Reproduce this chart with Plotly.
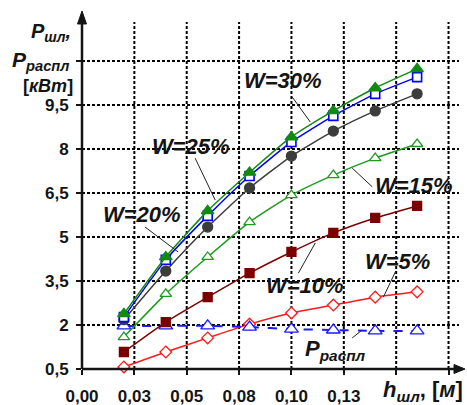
import plotly.graph_objects as go

# Slot height h_шл, m
h = [0.02, 0.04, 0.06, 0.08, 0.10, 0.12, 0.14, 0.16]

# Slag bath power P_шл, kW, for each moisture level W
p_w30 = [2.38, 4.32, 5.89, 7.20, 8.41, 9.30, 10.08, 10.73]
p_w25 = [2.27, 4.22, 5.72, 7.08, 8.24, 9.13, 9.88, 10.45]
p_w20 = [2.18, 3.84, 5.34, 6.67, 7.76, 8.61, 9.30, 9.88]
p_w15 = [1.59, 3.06, 4.32, 5.51, 6.43, 7.11, 7.69, 8.17]
p_w10 = [1.08, 2.10, 2.95, 3.77, 4.49, 5.14, 5.65, 6.06]
p_w5 = [0.57, 1.08, 1.56, 2.03, 2.41, 2.68, 2.95, 3.13]

# Melting power P_распл, kW
p_raspl = [1.97, 1.97, 1.97, 1.93, 1.86, 1.83, 1.80, 1.80]

# Axis ticks
x_tickvals = [0.0, 0.025, 0.05, 0.075, 0.10, 0.125, 0.15, 0.175]
x_ticktext = ["0,00", "0,03", "0,05", "0,08", "0,10", "0,13", "", ""]
y_tickvals = [0.5, 2, 3.5, 5, 6.5, 8, 9.5, 11]
y_ticktext = ["0,5", "2", "3,5", "5", "6,5", "8", "9,5", ""]

X_RANGE = [0, 0.18]
Y_RANGE = [0.5, 12.33]

FONT = "Liberation Sans, Arial, sans-serif"
INK = "#141414"

fig = go.Figure()


def add_series(y, color, symbol, size, fill, dash="solid", width=1.5, edge=1.3):
    fig.add_trace(go.Scatter(
        x=h, y=y, mode="lines+markers",
        line=dict(color=color, width=width, dash=dash, shape="spline", smoothing=0.5),
        marker=dict(symbol=symbol, size=size, color=fill,
                    line=dict(color=color, width=edge)),
        showlegend=False, cliponaxis=False,
    ))


add_series(p_w5, "#ff1a1a", "diamond", 9, "white")
add_series(p_raspl, "#1a1aff", "triangle-up", 12, "white", dash="dash", width=2)
add_series(p_w10, "#7a0000", "square", 9, "#7a0000")
add_series(p_w15, "#1e9a1e", "triangle-up", 10, "white")
add_series(p_w20, "#3c3c3c", "circle", 10, "#3c3c3c")
add_series(p_w25, "#0000ff", "square", 9, "white", edge=1.6)
add_series(p_w30, "#128a12", "triangle-up", 11, "#128a12")

shapes = []

# Dotted grid at every tick
grid_line = dict(color="#000000", width=2, dash="3px,2px")
for xv in x_tickvals[1:]:
    shapes.append(dict(type="line", xref="x", yref="y", x0=xv, x1=xv,
                       y0=Y_RANGE[0], y1=Y_RANGE[1], line=grid_line, layer="between"))
for yv in y_tickvals[1:]:
    shapes.append(dict(type="line", xref="x", yref="y", x0=X_RANGE[0], x1=X_RANGE[1],
                       y0=yv, y1=yv, line=grid_line, layer="between"))

# Curve labels with leader lines: (text, label x, label y, line from, line to)
curve_labels = [
    ("W=30%", 0.0961, 10.32, (0.1004, 9.77), (0.1090, 8.92)),
    ("W=25%", 0.0521, 8.07, (0.0540, 7.69), (0.0636, 6.26)),
    ("W=20%", 0.0287, 5.78, (0.0301, 5.34), (0.0459, 4.49)),
    ("W=15%", 0.1587, 6.77, (0.1386, 6.71), (0.1290, 7.35)),
    ("W=10%", 0.1066, 3.36, (0.1033, 3.77), (0.1114, 4.80)),
    ("W=5%", 0.1506, 4.15, (0.1496, 3.81), (0.1439, 2.95)),
]

annotations = []
for text, lx, ly, p0, p1 in curve_labels:
    annotations.append(dict(
        x=lx, y=ly, xref="x", yref="y", text=f"<b><i>{text}</i></b>",
        showarrow=False, font=dict(family=FONT, size=22, color=INK),
        xanchor="center", yanchor="middle"))
    shapes.append(dict(type="line", xref="x", yref="y",
                       x0=p0[0], y0=p0[1], x1=p1[0], y1=p1[1],
                       line=dict(color="#222222", width=1)))

# Melting power label
annotations.append(dict(
    x=0.121, y=1.15, xref="x", yref="y",
    text="<b><i>P<sub>распл</sub></i></b>", showarrow=False,
    font=dict(family=FONT, size=22, color=INK),
    xanchor="center", yanchor="middle"))
shapes.append(dict(type="line", xref="x", yref="y",
                   x0=0.129, y0=1.56, x1=0.1338, y1=1.83,
                   line=dict(color="#222222", width=1)))

# Axis lines (edges of the plot area) with arrowheads
shapes += [
    dict(type="line", xref="paper", yref="paper", x0=0, y0=0, x1=0, y1=1,
         line=dict(color=INK, width=2.5), layer="above"),
    dict(type="line", xref="paper", yref="paper", x0=0, y0=0, x1=1, y1=0,
         line=dict(color=INK, width=2.5), layer="above"),
    dict(type="path", xref="paper", yref="paper", xsizemode="pixel", ysizemode="pixel",
         xanchor=0, yanchor=1, path="M -4.5,-2 L 4.5,-2 L 0,11 Z",
         fillcolor=INK, line=dict(color=INK, width=1), layer="above"),
    dict(type="path", xref="paper", yref="paper", xsizemode="pixel", ysizemode="pixel",
         xanchor=1, yanchor=0, path="M -5,-4.5 L -5,4.5 L 6,0 Z",
         fillcolor=INK, line=dict(color=INK, width=1), layer="above"),
]

# Axis titles
annotations += [
    dict(x=0, y=11.98, xref="paper", yref="y", xanchor="center", yanchor="middle",
         xshift=-31, text="<b><i>P<sub>шл</sub>,</i></b>", showarrow=False,
         font=dict(family=FONT, size=20, color=INK)),
    dict(x=0, y=11, xref="paper", yref="y", xanchor="center", yanchor="middle",
         xshift=-42, text="<b><i>P<sub>распл</sub></i></b>", showarrow=False,
         font=dict(family=FONT, size=21, color=INK)),
    dict(x=0, y=10.15, xref="paper", yref="y", xanchor="center", yanchor="middle",
         xshift=-34, text="<b>[<i>кВт</i>]</b>", showarrow=False,
         font=dict(family=FONT, size=18, color=INK)),
    dict(x=1, y=0, xref="paper", yref="paper", xanchor="right", yanchor="middle",
         xshift=6, yshift=-22, text="<b><i>h<sub>шл</sub></i>, [<i>м</i>]</b>",
         showarrow=False, font=dict(family=FONT, size=22, color=INK)),
]

fig.update_layout(
    width=467, height=405,
    margin=dict(l=82, r=8, t=22, b=36),
    paper_bgcolor="white", plot_bgcolor="rgba(0,0,0,0)",
    annotations=annotations, shapes=shapes,
    font=dict(family=FONT, size=17, color=INK),
)

axis_style = dict(showgrid=False, zeroline=False, showline=False, automargin=False,
                  ticks="outside", ticklen=5, tickwidth=2, tickcolor=INK)

fig.update_xaxes(
    range=X_RANGE, tickvals=x_tickvals, ticktext=x_ticktext,
    tickfont=dict(family=FONT, size=17, color=INK, weight="bold"),
    ticklabelstandoff=7, **axis_style,
)
fig.update_yaxes(
    range=Y_RANGE, tickvals=y_tickvals, ticktext=y_ticktext,
    tickfont=dict(family=FONT, size=17, color=INK, weight="bold"),
    ticklabelstandoff=4, **axis_style,
)

fig.write_html("out.html")
